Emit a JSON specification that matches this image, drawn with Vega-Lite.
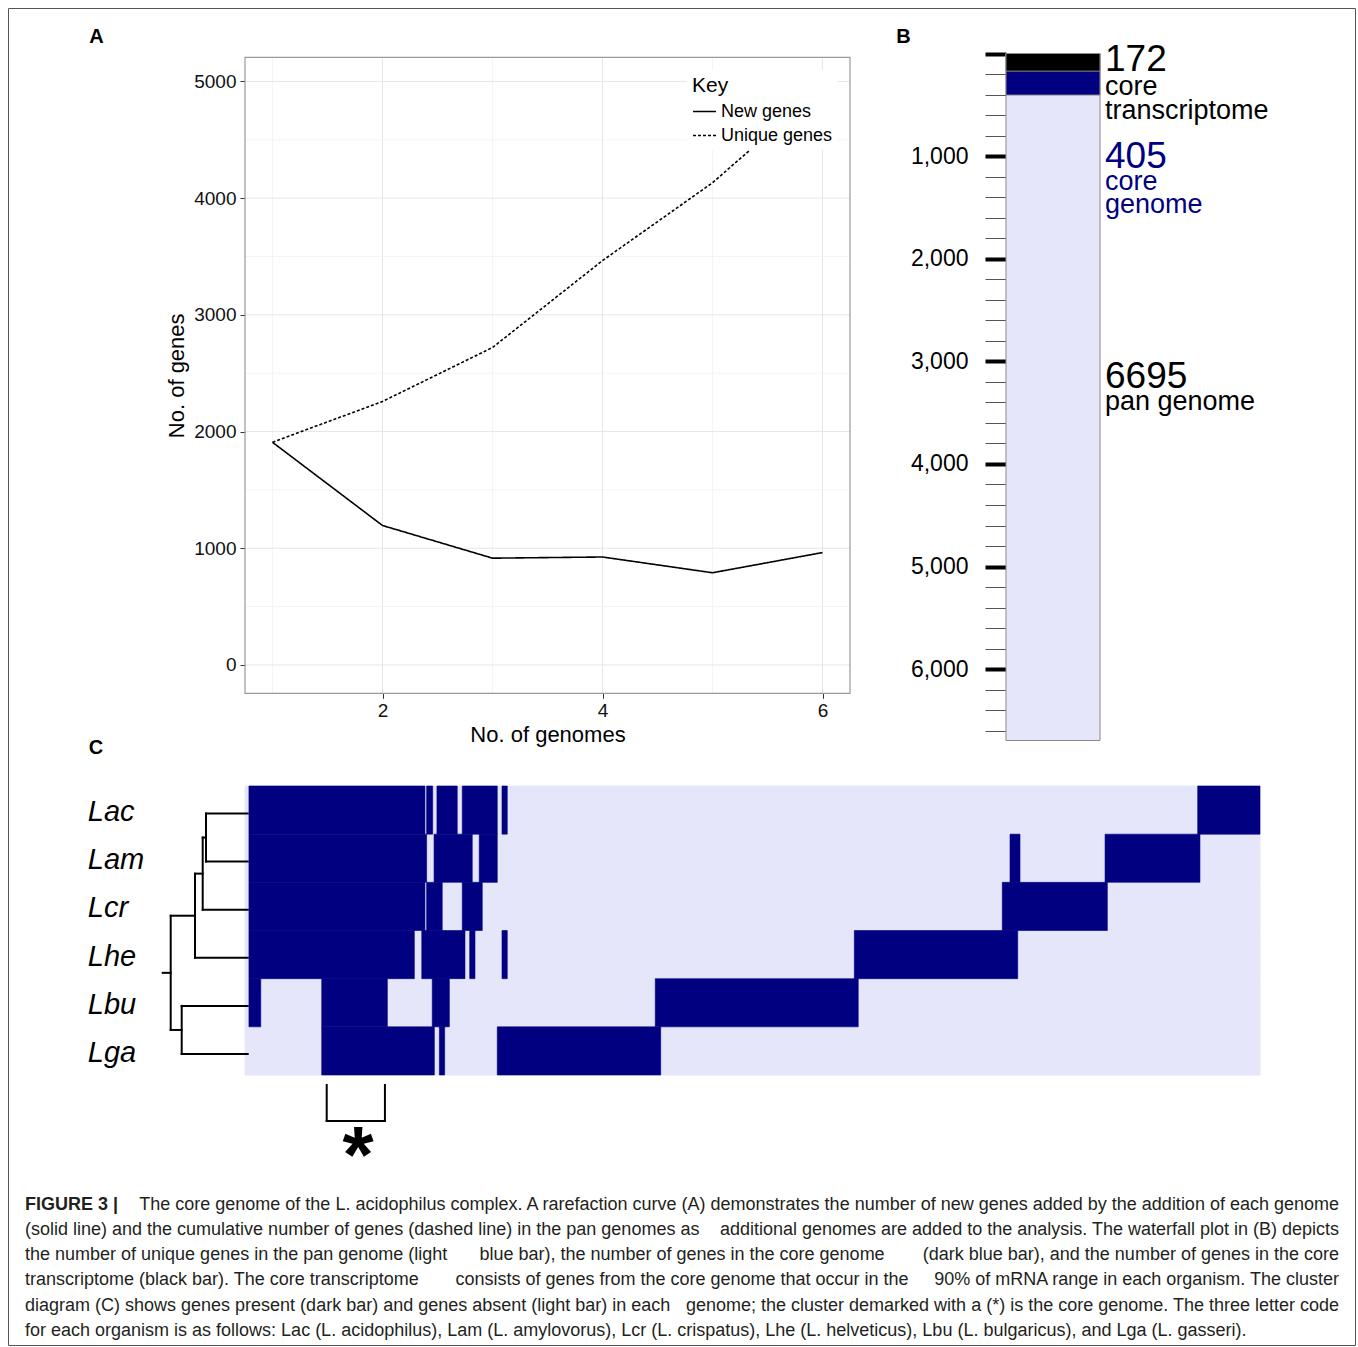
{
  "$schema": "https://vega.github.io/schema/vega-lite/v6.json",
  "width": 1358,
  "height": 1347,
  "autosize": {"type": "none"},
  "padding": 0,
  "background": "white",
  "config": {"view": {"stroke": null}, "font": "Liberation Sans", "axis": {"grid": false, "labelFlush": false, "labelOverlap": false}},
  "datasets": {
    "curve": [
      {"genomes": 1, "genes": 1908, "series": "New genes"},
      {"genomes": 2, "genes": 1195, "series": "New genes"},
      {"genomes": 3, "genes": 915, "series": "New genes"},
      {"genomes": 4, "genes": 925, "series": "New genes"},
      {"genomes": 5, "genes": 790, "series": "New genes"},
      {"genomes": 6, "genes": 963, "series": "New genes"},
      {"genomes": 1, "genes": 1908, "series": "Unique genes"},
      {"genomes": 2, "genes": 2258, "series": "Unique genes"},
      {"genomes": 3, "genes": 2720, "series": "Unique genes"},
      {"genomes": 4, "genes": 3465, "series": "Unique genes"},
      {"genomes": 5, "genes": 4132, "series": "Unique genes"},
      {"genomes": 6, "genes": 4955, "series": "Unique genes"}
    ],
    "gridV": [
      {"at": 1, "kind": "minor"}, {"at": 2, "kind": "major"}, {"at": 3, "kind": "minor"},
      {"at": 4, "kind": "major"}, {"at": 5, "kind": "minor"}, {"at": 6, "kind": "major"}
    ],
    "gridH": [
      {"at": 0, "kind": "major"}, {"at": 500, "kind": "minor"}, {"at": 1000, "kind": "major"},
      {"at": 1500, "kind": "minor"}, {"at": 2000, "kind": "major"}, {"at": 2500, "kind": "minor"},
      {"at": 3000, "kind": "major"}, {"at": 3500, "kind": "minor"}, {"at": 4000, "kind": "major"},
      {"at": 4500, "kind": "minor"}, {"at": 5000, "kind": "major"}
    ],
    "waterfall": [
      {"set": "pan genome", "genes": 6695},
      {"set": "core genome", "genes": 405},
      {"set": "core transcriptome", "genes": 172}
    ],
    "waterfallText": [
      {"set": "core transcriptome", "kind": "count", "label": "172", "at": 170},
      {"set": "core transcriptome", "kind": "name", "label": "core", "at": 406},
      {"set": "core transcriptome", "kind": "name", "label": "transcriptome", "at": 634},
      {"set": "core genome", "kind": "count", "label": "405", "at": 1113},
      {"set": "core genome", "kind": "name", "label": "core", "at": 1332},
      {"set": "core genome", "kind": "name", "label": "genome", "at": 1559},
      {"set": "pan genome", "kind": "count", "label": "6695", "at": 3258},
      {"set": "pan genome", "kind": "name", "label": "pan genome", "at": 3474}
    ],
    "genomes": [
      {"genome": "Lac"}, {"genome": "Lam"}, {"genome": "Lcr"},
      {"genome": "Lhe"}, {"genome": "Lbu"}, {"genome": "Lga"}
    ],
    "present": [
      {"genome": "Lac", "from": 26, "to": 1187},
      {"genome": "Lac", "from": 1198, "to": 1238},
      {"genome": "Lac", "from": 1266, "to": 1400},
      {"genome": "Lac", "from": 1433, "to": 1664},
      {"genome": "Lac", "from": 1695, "to": 1730},
      {"genome": "Lac", "from": 6284, "to": 6695},
      {"genome": "Lam", "from": 26, "to": 1198},
      {"genome": "Lam", "from": 1247, "to": 1499},
      {"genome": "Lam", "from": 1545, "to": 1664},
      {"genome": "Lam", "from": 5046, "to": 5112},
      {"genome": "Lam", "from": 5673, "to": 6299},
      {"genome": "Lcr", "from": 26, "to": 1187},
      {"genome": "Lcr", "from": 1198, "to": 1301},
      {"genome": "Lcr", "from": 1433, "to": 1565},
      {"genome": "Lcr", "from": 4995, "to": 5688},
      {"genome": "Lhe", "from": 26, "to": 1117},
      {"genome": "Lhe", "from": 1166, "to": 1451},
      {"genome": "Lhe", "from": 1482, "to": 1517},
      {"genome": "Lhe", "from": 1695, "to": 1730},
      {"genome": "Lhe", "from": 4019, "to": 5097},
      {"genome": "Lbu", "from": 26, "to": 104},
      {"genome": "Lbu", "from": 506, "to": 939},
      {"genome": "Lbu", "from": 1235, "to": 1348},
      {"genome": "Lbu", "from": 2706, "to": 4045},
      {"genome": "Lga", "from": 506, "to": 1249},
      {"genome": "Lga", "from": 1282, "to": 1317},
      {"genome": "Lga", "from": 1664, "to": 2742}
    ],
    "dendro": [
      {"h1": 0, "h2": 41.7, "p1": 1, "p2": 1},
      {"h1": 0, "h2": 41.7, "p1": 2, "p2": 2},
      {"h1": 41.7, "h2": 41.7, "p1": 1, "p2": 2},
      {"h1": 41.7, "h2": 45, "p1": 1.5, "p2": 1.5},
      {"h1": 0, "h2": 45, "p1": 3, "p2": 3},
      {"h1": 45, "h2": 45, "p1": 1.5, "p2": 3},
      {"h1": 45, "h2": 52.7, "p1": 2.25, "p2": 2.25},
      {"h1": 0, "h2": 52.7, "p1": 4, "p2": 4},
      {"h1": 52.7, "h2": 52.7, "p1": 2.25, "p2": 4},
      {"h1": 52.7, "h2": 77, "p1": 3.125, "p2": 3.125},
      {"h1": 0, "h2": 66, "p1": 5, "p2": 5},
      {"h1": 0, "h2": 66, "p1": 6, "p2": 6},
      {"h1": 66, "h2": 66, "p1": 5, "p2": 6},
      {"h1": 66, "h2": 77, "p1": 5.5, "p2": 5.5},
      {"h1": 77, "h2": 77, "p1": 3.125, "p2": 5.5},
      {"h1": 77, "h2": 85, "p1": 4.3125, "p2": 4.3125}
    ],
    "bracket": [
      {"g1": 539, "g2": 539, "b1": 0, "b2": 1},
      {"g1": 923, "g2": 923, "b1": 0, "b2": 1},
      {"g1": 539, "g2": 923, "b1": 1, "b2": 1}
    ],
    "caption": [
      {"line": 1, "lead": "FIGURE 3 |", "left": "", "mid": "", "right": "The core genome of the L. acidophilus complex. A rarefaction curve (A) demonstrates the number of new genes added by the addition of each genome"},
      {"line": 2, "lead": "", "left": "(solid line) and the cumulative number of genes (dashed line) in the pan genomes as", "mid": "", "right": "additional genomes are added to the analysis. The waterfall plot in (B) depicts"},
      {"line": 3, "lead": "", "left": "the number of unique genes in the pan genome (light", "mid": "blue bar), the number of genes in the core genome", "right": "(dark blue bar), and the number of genes in the core"},
      {"line": 4, "lead": "", "left": "transcriptome (black bar). The core transcriptome", "mid": "consists of genes from the core genome that occur in the", "right": "90% of mRNA range in each organism. The cluster"},
      {"line": 5, "lead": "", "left": "diagram (C) shows genes present (dark bar) and genes absent (light bar) in each", "mid": "", "right": "genome; the cluster demarked with a (*) is the core genome. The three letter code"},
      {"line": 6, "lead": "", "left": "for each organism is as follows: Lac (L. acidophilus), Lam (L. amylovorus), Lcr (L. crispatus), Lhe (L. helveticus), Lbu (L. bulgaricus), and Lga (L. gasseri).", "mid": "", "right": ""}
    ]
  },
  "resolve": {
    "scale": {"x": "independent", "y": "independent", "color": "independent", "fill": "independent", "size": "independent", "strokeDash": "independent"},
    "axis": {"x": "independent", "y": "independent"}
  },
  "layer": [
    {
      "data": {"values": [{"a": 0, "b": 1}]},
      "mark": {"type": "rect", "filled": false, "color": "#555555", "strokeWidth": 1},
      "encoding": {
        "x": {"field": "a", "type": "quantitative", "scale": {"domain": [0, 1], "range": [8.5, 1355.5], "nice": false, "zero": false}, "axis": null},
        "x2": {"field": "b"},
        "y": {"field": "a", "type": "quantitative", "scale": {"domain": [0, 1], "range": [8.5, 1345.5], "nice": false, "zero": false}, "axis": null},
        "y2": {"field": "b"}
      }
    },
    {
      "resolve": {"axis": {"x": "independent", "y": "independent"}},
      "layer": [
        {
          "data": {"name": "gridV"},
          "mark": {"type": "rule", "strokeWidth": 1},
          "encoding": {
            "x": {"field": "at", "type": "quantitative", "scale": {"domain": [0.75, 6.25], "range": [245, 850], "nice": false, "zero": false}, "axis": null},
            "y": {"datum": -243, "type": "quantitative", "scale": {"domain": [-243, 5207], "range": [693.3, 57.3], "nice": false, "zero": false}, "axis": null},
            "y2": {"datum": 5207},
            "color": {"field": "kind", "type": "nominal", "scale": {"domain": ["major", "minor"], "range": ["#e6e6e6", "#f4f4f4"]}, "legend": null}
          }
        },
        {
          "data": {"name": "gridH"},
          "mark": {"type": "rule", "strokeWidth": 1},
          "encoding": {
            "y": {"field": "at", "type": "quantitative", "scale": {"domain": [-243, 5207], "range": [693.3, 57.3], "nice": false, "zero": false}, "axis": null},
            "x": {"datum": 0.75, "type": "quantitative", "scale": {"domain": [0.75, 6.25], "range": [245, 850], "nice": false, "zero": false}, "axis": null},
            "x2": {"datum": 6.25},
            "color": {"field": "kind", "type": "nominal", "scale": {"domain": ["major", "minor"], "range": ["#e6e6e6", "#f4f4f4"]}, "legend": null}
          }
        },
        {
          "data": {"values": [{}]},
          "mark": {"type": "rect", "filled": false, "color": "#9a9a9a", "strokeWidth": 1.2},
          "encoding": {
            "x": {"datum": 0.75, "type": "quantitative", "scale": {"domain": [0.75, 6.25], "range": [245, 850], "nice": false, "zero": false}, "axis": null},
            "x2": {"datum": 6.25},
            "y": {"datum": -243, "type": "quantitative", "scale": {"domain": [-243, 5207], "range": [693.3, 57.3], "nice": false, "zero": false}, "axis": null},
            "y2": {"datum": 5207}
          }
        },
        {
          "data": {"name": "curve"},
          "mark": {"type": "line", "color": "black", "strokeWidth": 1.6},
          "encoding": {
            "x": {
              "field": "genomes", "type": "quantitative",
              "scale": {"domain": [0.75, 6.25], "range": [245, 850], "nice": false, "zero": false},
              "axis": {"orient": "bottom", "offset": -653.7, "values": [2, 4, 6], "domain": false, "tickSize": 5, "tickColor": "#333333", "labelFontSize": 19, "labelColor": "#111111", "labelPadding": 3, "title": "No. of genomes", "titleFontSize": 22, "titleFontWeight": "normal", "titleColor": "black", "titlePadding": 4}
            },
            "y": {
              "field": "genes", "type": "quantitative",
              "scale": {"domain": [-243, 5207], "range": [693.3, 57.3], "nice": false, "zero": false},
              "axis": {"orient": "left", "offset": -245, "values": [0, 1000, 2000, 3000, 4000, 5000], "format": "d", "domain": false, "tickSize": 5, "tickColor": "#333333", "labelFontSize": 19, "labelColor": "#111111", "labelPadding": 4, "title": "No. of genes", "titleFontSize": 22, "titleFontWeight": "normal", "titleColor": "black", "titlePadding": 5}
            },
            "strokeDash": {
              "field": "series", "type": "nominal",
              "scale": {"domain": ["New genes", "Unique genes"], "range": [[1, 0], [3, 2]]},
              "legend": {"title": "Key", "orient": "none", "legendX": 687, "legendY": 70, "direction": "vertical", "titleFontSize": 21, "titleFontWeight": "normal", "titleColor": "black", "titlePadding": 3, "labelFontSize": 18, "labelColor": "black", "labelOffset": 4, "symbolSize": 529, "symbolStrokeWidth": 1.5, "symbolStrokeColor": "black", "symbolType": "stroke", "fillColor": "white", "padding": 5, "rowPadding": 2}
            }
          }
        },
        {
          "data": {"values": [{}]},
          "mark": {"type": "text", "text": "A", "fontWeight": "bold", "fontSize": 20, "align": "center", "baseline": "alphabetic"},
          "encoding": {
            "x": {"datum": -0.6, "type": "quantitative", "scale": {"domain": [0.75, 6.25], "range": [245, 850], "nice": false, "zero": false}, "axis": null},
            "y": {"datum": 5327, "type": "quantitative", "scale": {"domain": [-243, 5207], "range": [693.3, 57.3], "nice": false, "zero": false}, "axis": null}
          }
        }
      ]
    },
    {
      "resolve": {"axis": {"y": "independent"}},
      "layer": [
        {
          "data": {"name": "waterfall"},
          "mark": {"type": "rect", "stroke": "#8a8a8a", "strokeWidth": 1},
          "encoding": {
            "x": {"datum": 0, "type": "quantitative", "scale": {"domain": [0, 1], "range": [1006, 1100], "nice": false, "zero": false}, "axis": null},
            "x2": {"datum": 1},
            "y": {
              "field": "genes", "type": "quantitative",
              "scale": {"domain": [0, 6695], "range": [53.5, 740.5], "nice": false, "zero": false},
              "axis": {"orient": "left", "offset": -1006, "values": [0, 1000, 2000, 3000, 4000, 5000, 6000], "labelExpr": "datum.value == 0 ? '' : format(datum.value, ',')", "domain": false, "tickSize": 21, "tickWidth": 4, "tickColor": "black", "tickCap": "butt", "labelFontSize": 23, "labelColor": "black", "labelPadding": 17, "title": null}
            },
            "y2": {"datum": 0},
            "color": {"field": "set", "type": "nominal", "scale": {"domain": ["pan genome", "core genome", "core transcriptome"], "range": ["#E6E6FA", "#000080", "#000000"]}, "legend": null}
          }
        },
        {
          "data": {"name": "waterfallText"},
          "mark": {"type": "text", "align": "left", "baseline": "alphabetic", "dx": 5},
          "encoding": {
            "x": {"datum": 1, "type": "quantitative", "scale": {"domain": [0, 1], "range": [1006, 1100], "nice": false, "zero": false}, "axis": null},
            "y": {
              "field": "at", "type": "quantitative",
              "scale": {"domain": [0, 6695], "range": [53.5, 740.5], "nice": false, "zero": false},
              "axis": {"orient": "left", "offset": -1006, "values": [200, 400, 600, 800, 1200, 1400, 1600, 1800, 2200, 2400, 2600, 2800, 3200, 3400, 3600, 3800, 4200, 4400, 4600, 4800, 5200, 5400, 5600, 5800, 6200, 6400, 6600], "labels": false, "domain": false, "tickSize": 21, "tickWidth": 1, "tickColor": "#555555", "title": null}
            },
            "text": {"field": "label"},
            "fill": {"field": "set", "type": "nominal", "scale": {"domain": ["pan genome", "core genome", "core transcriptome"], "range": ["#000000", "#000080", "#000000"]}, "legend": null},
            "size": {"field": "kind", "type": "ordinal", "scale": {"domain": ["count", "name"], "range": [37, 27]}, "legend": null}
          }
        },
        {
          "data": {"values": [{}]},
          "mark": {"type": "text", "text": "B", "fontWeight": "bold", "fontSize": 20, "align": "center", "baseline": "alphabetic"},
          "encoding": {
            "x": {"datum": -1.09, "type": "quantitative", "scale": {"domain": [0, 1], "range": [1006, 1100], "nice": false, "zero": false}, "axis": null},
            "y": {"datum": -99, "type": "quantitative", "scale": {"domain": [0, 6695], "range": [53.5, 740.5], "nice": false, "zero": false}, "axis": null}
          }
        }
      ]
    },
    {
      "resolve": {"axis": {"x": "independent", "y": "independent"}},
      "layer": [
        {
          "data": {"name": "genomes"},
          "mark": {"type": "rect", "color": "#E6E6FA", "stroke": "#E6E6FA", "strokeWidth": 1},
          "encoding": {
            "x": {"datum": 0, "type": "quantitative", "scale": {"domain": [0, 6695], "range": [245, 1260], "nice": false, "zero": false}, "axis": null},
            "x2": {"datum": 6695},
            "y": {
              "field": "genome", "type": "nominal",
              "scale": {"domain": ["Lac", "Lam", "Lcr", "Lhe", "Lbu", "Lga"], "range": [786, 1075], "paddingInner": 0, "paddingOuter": 0},
              "axis": {"orient": "left", "offset": -87.3, "ticks": false, "tickSize": 0, "domain": false, "labelAlign": "left", "labelBaseline": "middle", "labelPadding": 0, "labelFontSize": 29, "labelFontStyle": "italic", "labelColor": "black", "labelOffset": 2, "title": null}
            }
          }
        },
        {
          "data": {"name": "present"},
          "mark": {"type": "rect", "color": "#000080", "stroke": "#000080", "strokeWidth": 0.6},
          "encoding": {
            "x": {"field": "from", "type": "quantitative", "scale": {"domain": [0, 6695], "range": [245, 1260], "nice": false, "zero": false}, "axis": null},
            "x2": {"field": "to"},
            "y": {"field": "genome", "type": "nominal", "scale": {"domain": ["Lac", "Lam", "Lcr", "Lhe", "Lbu", "Lga"], "range": [786, 1075], "paddingInner": 0, "paddingOuter": 0}, "axis": null}
          }
        }
      ]
    },
    {
      "layer": [
        {
          "data": {"name": "dendro"},
          "mark": {"type": "rule", "strokeWidth": 2, "color": "black", "strokeCap": "square"},
          "encoding": {
            "x": {"field": "h1", "type": "quantitative", "scale": {"domain": [0, 85], "range": [247.7, 162.7], "nice": false, "zero": false}, "axis": null},
            "x2": {"field": "h2"},
            "y": {"field": "p1", "type": "quantitative", "scale": {"domain": [1, 6], "range": [813.5, 1054], "nice": false, "zero": false}, "axis": null},
            "y2": {"field": "p2"}
          }
        },
        {
          "data": {"values": [{}]},
          "mark": {"type": "text", "text": "C", "fontWeight": "bold", "fontSize": 20, "align": "center", "baseline": "alphabetic"},
          "encoding": {
            "x": {"datum": 151.7, "type": "quantitative", "scale": {"domain": [0, 85], "range": [247.7, 162.7], "nice": false, "zero": false}, "axis": null},
            "y": {"datum": -0.237, "type": "quantitative", "scale": {"domain": [1, 6], "range": [813.5, 1054], "nice": false, "zero": false}, "axis": null}
          }
        }
      ]
    },
    {
      "layer": [
        {
          "data": {"name": "bracket"},
          "mark": {"type": "rule", "strokeWidth": 2, "color": "black", "strokeCap": "square"},
          "encoding": {
            "x": {"field": "g1", "type": "quantitative", "scale": {"domain": [0, 6695], "range": [245, 1260], "nice": false, "zero": false}, "axis": null},
            "x2": {"field": "g2"},
            "y": {"field": "b1", "type": "quantitative", "scale": {"domain": [0, 1], "range": [1085, 1121], "nice": false, "zero": false}, "axis": null},
            "y2": {"field": "b2"}
          }
        },
        {
          "data": {"values": [{}]},
          "mark": {"type": "text", "text": "*", "fontWeight": "bold", "fontSize": 80, "align": "center", "baseline": "alphabetic"},
          "encoding": {
            "x": {"datum": 745, "type": "quantitative", "scale": {"domain": [0, 6695], "range": [245, 1260], "nice": false, "zero": false}, "axis": null},
            "y": {"datum": 2.69, "type": "quantitative", "scale": {"domain": [0, 1], "range": [1085, 1121], "nice": false, "zero": false}, "axis": null}
          }
        }
      ]
    },
    {
      "data": {"name": "caption"},
      "layer": [
        {
          "mark": {"type": "text", "align": "left", "baseline": "alphabetic", "fontSize": 18, "fontWeight": "bold", "color": "#231f20"},
          "encoding": {
            "x": {"datum": 0, "type": "quantitative", "scale": {"domain": [0, 1], "range": [25, 1339], "nice": false, "zero": false}, "axis": null},
            "y": {"field": "line", "type": "quantitative", "scale": {"domain": [1, 6], "range": [1209.5, 1336], "nice": false, "zero": false}, "axis": null},
            "text": {"field": "lead"}
          }
        },
        {
          "mark": {"type": "text", "align": "left", "baseline": "alphabetic", "fontSize": 18, "color": "#231f20"},
          "encoding": {
            "x": {"datum": 0, "type": "quantitative", "scale": {"domain": [0, 1], "range": [25, 1339], "nice": false, "zero": false}, "axis": null},
            "y": {"field": "line", "type": "quantitative", "scale": {"domain": [1, 6], "range": [1209.5, 1336], "nice": false, "zero": false}, "axis": null},
            "text": {"field": "left"}
          }
        },
        {
          "mark": {"type": "text", "align": "center", "baseline": "alphabetic", "fontSize": 18, "color": "#231f20"},
          "encoding": {
            "x": {"datum": 0.5, "type": "quantitative", "scale": {"domain": [0, 1], "range": [25, 1339], "nice": false, "zero": false}, "axis": null},
            "y": {"field": "line", "type": "quantitative", "scale": {"domain": [1, 6], "range": [1209.5, 1336], "nice": false, "zero": false}, "axis": null},
            "text": {"field": "mid"}
          }
        },
        {
          "mark": {"type": "text", "align": "right", "baseline": "alphabetic", "fontSize": 18, "color": "#231f20"},
          "encoding": {
            "x": {"datum": 1, "type": "quantitative", "scale": {"domain": [0, 1], "range": [25, 1339], "nice": false, "zero": false}, "axis": null},
            "y": {"field": "line", "type": "quantitative", "scale": {"domain": [1, 6], "range": [1209.5, 1336], "nice": false, "zero": false}, "axis": null},
            "text": {"field": "right"}
          }
        }
      ]
    }
  ]
}
